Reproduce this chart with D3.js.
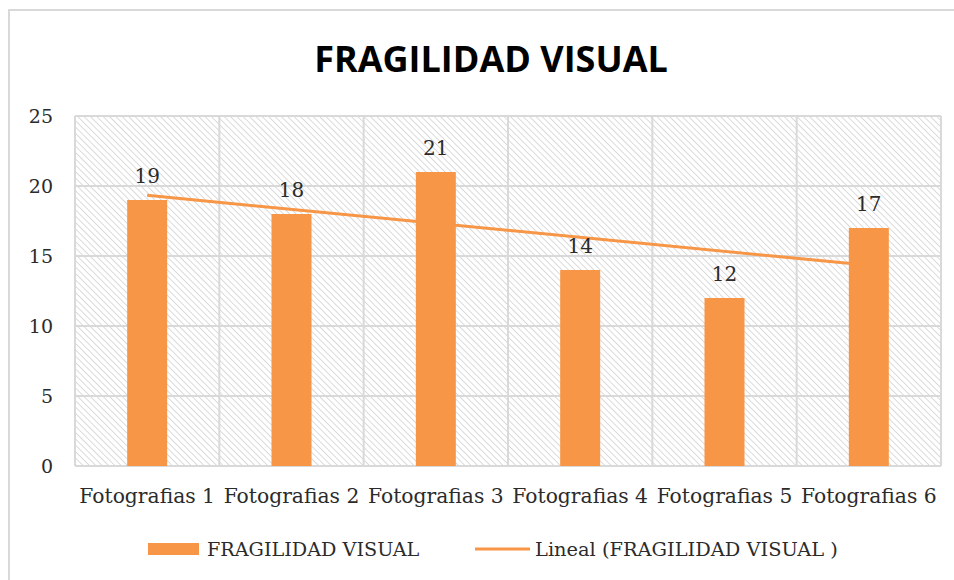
<!DOCTYPE html>
<html>
<head>
<meta charset="utf-8">
<script src="https://cdn.jsdelivr.net/npm/d3@7"></script>
<style>
  html, body { margin: 0; padding: 0; background: #fff; }
  svg { display: block; }
</style>
</head>
<body>
<div id="chart"></div>
<script>
// Chart data
const categories = ["Fotografias 1", "Fotografias 2", "Fotografias 3", "Fotografias 4", "Fotografias 5", "Fotografias 6"];
const values = [19, 18, 21, 14, 12, 17];
const yTicks = [0, 5, 10, 15, 20, 25];
const seriesName = "FRAGILIDAD VISUAL";
const trendName = "Lineal (FRAGILIDAD VISUAL )";
const chartTitle = "FRAGILIDAD VISUAL";

const W = 954, H = 580;
const plot = { left: 75, right: 941, top: 116, bottom: 466 };
const orange = "#F79646";
const gridColor = "#d9d9d9";
const textColor = "#2b2b2b";
const serif = "'DejaVu Serif', 'Liberation Serif', serif";

const svg = d3.select("#chart").append("svg")
  .attr("width", W).attr("height", H);

// Diagonal hatch fill for the plot background
const defs = svg.append("defs");
const pat = defs.append("pattern")
  .attr("id", "hatch")
  .attr("patternUnits", "userSpaceOnUse")
  .attr("width", 4.5).attr("height", 4.5)
  .attr("patternTransform", "rotate(45)");
pat.append("rect").attr("width", 4.5).attr("height", 4.5).attr("fill", "#fff");
pat.append("line")
  .attr("x1", 0).attr("y1", 0).attr("x2", 4.5).attr("y2", 0)
  .attr("stroke", "#d2d2d2").attr("stroke-width", 1.6);

// Outer chart frame
svg.append("rect")
  .attr("x", 9).attr("y", 10)
  .attr("width", W + 20).attr("height", H + 20)
  .attr("fill", "#fff")
  .attr("stroke", gridColor).attr("stroke-width", 2);

// Title
svg.append("text")
  .attr("x", 491).attr("y", 72)
  .attr("text-anchor", "middle")
  .attr("font-family", "'Liberation Sans Narrow', 'Open Sans', Arial, sans-serif")
  .attr("font-weight", "bold")
  .attr("font-size", 36)
  .attr("fill", "#000")
  .text(chartTitle);

const x = d3.scaleBand()
  .domain(categories)
  .range([plot.left, plot.right])
  .paddingInner(0).paddingOuter(0);

const y = d3.scaleLinear()
  .domain([0, 25])
  .range([plot.bottom, plot.top]);

// Plot background
svg.append("rect")
  .attr("x", plot.left).attr("y", plot.top)
  .attr("width", plot.right - plot.left).attr("height", plot.bottom - plot.top)
  .attr("fill", "url(#hatch)");

// Horizontal gridlines
svg.append("g")
  .selectAll("line")
  .data(yTicks)
  .join("line")
  .attr("x1", plot.left).attr("x2", plot.right)
  .attr("y1", d => y(d)).attr("y2", d => y(d))
  .attr("stroke", gridColor).attr("stroke-width", 2);

// Vertical gridlines at category boundaries
const boundaries = categories.map(c => x(c)).concat([plot.right]);
svg.append("g")
  .selectAll("line")
  .data(boundaries)
  .join("line")
  .attr("x1", d => d).attr("x2", d => d)
  .attr("y1", plot.top).attr("y2", plot.bottom)
  .attr("stroke", gridColor).attr("stroke-width", 2);

// Y axis labels
const yAxis = d3.axisLeft(y).tickValues(yTicks).tickSize(0).tickPadding(22);
svg.append("g")
  .attr("transform", `translate(${plot.left},0)`)
  .call(yAxis)
  .call(g => g.select(".domain").remove())
  .call(g => g.selectAll("text")
    .attr("font-family", serif)
    .attr("font-size", 19)
    .attr("fill", textColor));

// X axis labels
const xAxis = d3.axisBottom(x).tickSize(0).tickPadding(23);
svg.append("g")
  .attr("transform", `translate(0,${plot.bottom})`)
  .call(xAxis)
  .call(g => g.select(".domain").remove())
  .call(g => g.selectAll("text")
    .attr("font-family", serif)
    .attr("font-size", 20.3)
    .attr("fill", textColor));

// Bars
const barW = 40;
const cx = c => x(c) + x.bandwidth() / 2;
svg.append("g")
  .selectAll("rect")
  .data(values)
  .join("rect")
  .attr("x", (d, i) => cx(categories[i]) - barW / 2)
  .attr("y", d => y(d))
  .attr("width", barW)
  .attr("height", d => y(0) - y(d))
  .attr("fill", orange);

// Linear trendline (least squares over category index)
const n = values.length;
const idx = d3.range(1, n + 1);
const mx = d3.mean(idx), my = d3.mean(values);
const slope = d3.sum(idx, (v, i) => (v - mx) * (values[i] - my)) / d3.sum(idx, v => (v - mx) ** 2);
const intercept = my - slope * mx;
const trendPts = [0, n - 1].map(i => [cx(categories[i]), y(intercept + slope * (i + 1))]);
svg.append("path")
  .attr("d", d3.line()(trendPts))
  .attr("fill", "none")
  .attr("stroke", orange)
  .attr("stroke-width", 3);

// Data labels
svg.append("g")
  .selectAll("text")
  .data(values)
  .join("text")
  .attr("x", (d, i) => cx(categories[i]))
  .attr("y", d => y(d) - 17)
  .attr("text-anchor", "middle")
  .attr("font-family", serif)
  .attr("font-size", 20)
  .attr("fill", textColor)
  .text(d => d);

// Legend
const lg = svg.append("g");
lg.append("rect")
  .attr("x", 148).attr("y", 543).attr("width", 51).attr("height", 12)
  .attr("fill", orange);
lg.append("text")
  .attr("x", 207).attr("y", 556)
  .attr("font-family", serif).attr("font-size", 19.2).attr("fill", textColor)
  .text(seriesName);
lg.append("line")
  .attr("x1", 475).attr("x2", 530).attr("y1", 549).attr("y2", 549)
  .attr("stroke", orange).attr("stroke-width", 3);
lg.append("text")
  .attr("x", 535).attr("y", 556)
  .attr("font-family", serif).attr("font-size", 19.4).attr("fill", textColor)
  .text(trendName);
</script>
</body>
</html>
